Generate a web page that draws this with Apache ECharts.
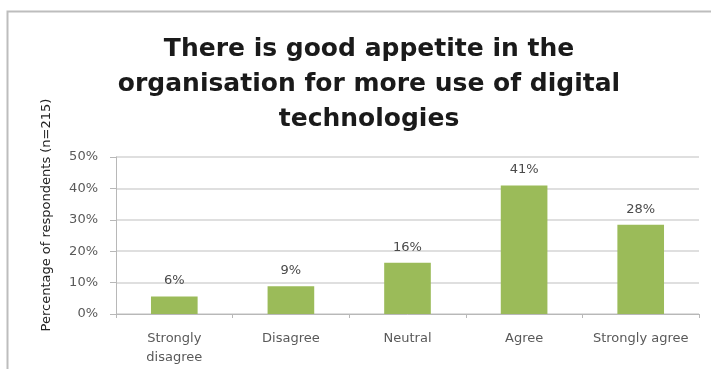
<!DOCTYPE html>
<html>
<head>
<meta charset="utf-8">
<script src="https://cdn.jsdelivr.net/npm/echarts@6/dist/echarts.min.js"></script>
<style>
  html, body { margin: 0; padding: 0; background: #fff; }
  #chart { width: 711px; height: 369px; }
</style>
</head>
<body>
<div id="chart"></div>
<script>
// answers on the agreement scale
const categories = ['Strongly\ndisagree', 'Disagree', 'Neutral', 'Agree', 'Strongly agree'];
// percentage of respondents (n=215)
const percentages = [5.6, 8.8, 16.3, 40.9, 28.4];
const yTicks = [0, 10, 20, 30, 40, 50];

const chart = echarts.init(document.getElementById('chart'));
chart.setOption({
  animation: false,
  textStyle: { fontFamily: 'DejaVu Sans' },
  title: {
    text: 'There is good appetite in the\norganisation for more use of digital\ntechnologies',
    left: 364,
    top: 27,
    textAlign: 'center',
    textStyle: {
      fontFamily: 'DejaVu Sans',
      fontSize: 25,
      fontWeight: 'bold',
      lineHeight: 35,
      color: '#1a1a1a'
    }
  },
  graphic: [
    {
      type: 'polyline',
      shape: { points: [[7.5, 369], [7.5, 11.5], [711, 11.5]] },
      style: { stroke: '#bdbdbd', lineWidth: 2, fill: null }
    },
    {
      type: 'text',
      x: 47,
      y: 215,
      rotation: Math.PI / 2,
      style: {
        text: 'Percentage of respondents (n=215)',
        font: '13px "DejaVu Sans"',
        fill: '#222',
        align: 'center',
        verticalAlign: 'middle'
      }
    }
  ],
  grid: { left: 116, right: 12, top: 157, bottom: 55 },
  xAxis: {
    type: 'category',
    data: categories,
    axisLine: { lineStyle: { color: '#b8b8b8', width: 1 } },
    axisTick: { show: true, alignWithLabel: false, length: 4, lineStyle: { color: '#b8b8b8' } },
    axisLabel: { color: '#595959', fontSize: 13, margin: 15, lineHeight: 19, interval: 0 }
  },
  yAxis: {
    type: 'value',
    min: yTicks[0],
    max: yTicks[yTicks.length - 1],
    interval: 10,
    axisLine: { show: true, lineStyle: { color: '#b8b8b8', width: 1 } },
    axisTick: { show: true, length: 6, lineStyle: { color: '#b8b8b8' } },
    axisLabel: { color: '#595959', fontSize: 13, margin: 18, formatter: v => v + '%' },
    splitLine: { lineStyle: { color: '#d4d4d4', width: 1.5 } }
  },
  series: [
    {
      type: 'bar',
      data: percentages,
      barWidth: '40%',
      itemStyle: { color: '#9bbb59' },
      label: {
        show: true,
        position: 'top',
        distance: 9,
        color: '#4a4a4a',
        fontSize: 13,
        formatter: p => Math.round(p.value) + '%'
      }
    }
  ]
});
</script>
</body>
</html>
